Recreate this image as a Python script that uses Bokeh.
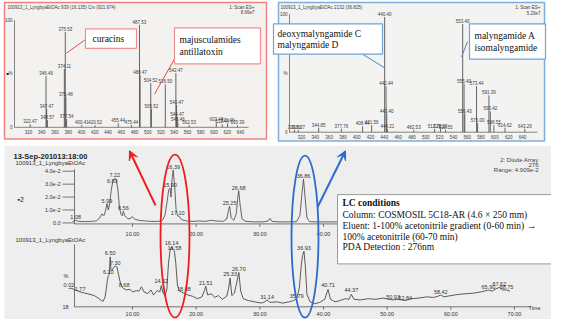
from bokeh.plotting import figure
from bokeh.models import Range1d, Arrow, VeeHead
from bokeh.core.properties import value
from bokeh.embed import file_html
from bokeh.resources import INLINE

# ---------------- data ----------------
# left mass spectrum (scan 939, 16.135 min)
mz_left = [322.47, 346.46, 347.47, 348.57, 374.11, 375.53, 376.48, 377.54, 400.41, 420.52,
           455.44, 475.44, 487.53, 488.47, 504.52, 505.52, 526.50, 542.47, 543.47, 544.47,
           545.46, 562.53, 603.44, 612.44, 620.46, 635.39]
int_left = [3, 50, 18, 7, 57, 93, 30, 8, 2, 2,
            4, 2, 100, 51, 43, 18, 42, 53, 22, 10,
            5, 2, 5, 3, 4, 2]
# right mass spectrum (scan 2132, 36.825 min)
mz_right = [309.80, 315.27, 344.85, 377.76, 408.44, 421.56, 440.40, 442.44, 443.40, 444.21,
            482.53, 512.72, 521.23, 528.55, 553.40, 555.40, 556.43, 573.44, 575.00, 591.39,
            593.42, 598.55, 614.62, 643.29]
int_right = [2, 2, 4, 3, 5, 6, 100, 40, 16, 3,
             2, 3, 3, 2, 94, 42, 16, 40, 8, 32,
             18, 6, 4, 3]
ms_ticks = [320, 340, 360, 380, 400, 420, 440, 460, 480, 500, 520, 540, 560, 580, 600, 620, 640]

# chromatogram 1 : diode array 276 nm (absorbance, x1e-2)
t_uv = [0.6, 1.08, 1.5, 2.5, 3.5, 4.3, 4.8, 5.2, 5.5, 5.8, 5.99, 6.2, 6.45, 6.65, 6.83, 7.0, 7.22,
        7.45, 7.7, 7.95, 8.2, 8.4, 8.56, 8.8, 9.2, 9.6, 9.95, 10.3, 11.0, 12.0, 13.0, 14.0, 14.7,
        15.1, 15.45, 15.7, 15.9, 16.05, 16.2, 16.39, 16.6, 16.85, 17.10, 17.35, 17.7, 18.5, 19.5,
        20.5, 21.5, 22.3, 23.2, 24.2, 24.8, 25.05, 25.25, 25.5, 25.9, 26.3, 26.5, 26.68, 26.9,
        27.2, 27.8, 29.0, 30.5, 31.3, 31.6, 31.9, 33.0, 34.5, 35.8, 36.3, 36.6, 36.86, 37.1,
        37.4, 37.8, 39.0, 41.0, 44.0]
a_uv = [0.12, 0.2, 0.12, 0.1, 0.12, 0.15, 0.35, 0.7, 0.55, 1.0, 1.5, 1.0, 1.6, 2.5, 3.0, 3.3, 3.45,
        3.35, 2.6, 1.2, 0.65, 0.55, 0.9, 0.55, 0.35, 0.3, 0.5, 0.3, 0.2, 0.15, 0.12, 0.12, 0.2,
        0.6, 1.7, 2.6, 2.7, 2.0, 3.3, 4.1, 3.0, 1.0, 0.55, 0.5, 0.25, 0.15, 0.12,
        0.15, 0.12, 0.2, 0.15, 0.12, 0.3, 0.9, 1.3, 0.4, 0.2, 0.7, 1.8, 2.5, 1.4,
        0.3, 0.12, 0.08, 0.08, 0.15, 0.35, 0.12, 0.08, 0.08, 0.1, 0.6, 2.2, 3.4, 2.0,
        0.4, 0.1, 0.08, 0.08, 0.08]
uv_peak_t = [1.08, 5.99, 6.83, 7.22, 8.56, 15.90, 16.39, 17.10, 25.25, 26.68, 36.86]
uv_peak_a = [0.2, 1.5, 3.0, 3.45, 0.9, 2.7, 4.1, 0.55, 1.3, 2.5, 3.4]
uv_yticks = [0, 1, 2, 3, 4]
uv_ylabels = ["0.0", "1.0e-2", "2.0e-2", "3.0e-2", "4.0e-2"]
uv_xticks = [10, 20, 30, 40]

# chromatogram 2 : MS TIC (%)
t_ms = [0.0, 0.3, 1.0, 1.77, 2.5, 3.3, 4.0, 4.6, 5.1, 5.4, 5.7, 5.9, 6.05, 6.20, 6.35, 6.45, 6.5,
        6.6, 6.8, 7.0, 7.30, 7.55, 7.8, 8.1, 8.4, 8.68, 9.1, 9.6, 10.0, 10.6, 11.0, 11.4, 11.8,
        12.4, 12.9, 13.3, 13.9, 14.3, 14.52, 14.8, 15.1, 15.4, 15.65, 15.9, 16.14, 16.35, 16.58,
        16.8, 17.05, 17.4, 18.08, 18.7, 19.4, 20.2, 20.9, 21.3, 21.51, 21.8, 22.4, 22.9, 23.5,
        24.1, 24.8, 25.1, 25.33, 25.6, 26.0, 26.4, 26.70, 27.0, 27.4, 28.2, 29.2, 30.2, 30.8,
        31.14, 31.6, 32.6, 33.6, 34.6, 35.3, 35.79, 36.2, 36.5, 36.7, 36.93, 37.15, 37.4, 37.9,
        38.6, 39.4, 40.2, 40.71, 41.1, 41.8, 42.6, 43.4, 44.0, 44.37, 44.8, 45.8, 47.0, 48.2,
        49.4, 50.3, 50.93, 51.6, 52.3, 52.84, 53.8, 55.0, 56.2, 57.3, 58.0, 58.42, 58.9, 60.0,
        61.3, 62.5, 63.6, 64.8, 65.90, 66.5, 67.1, 67.62, 68.1, 68.75, 69.3]
i_ms = [29, 30, 27, 24, 22, 20, 18, 14, 10, 9, 16, 30, 42, 50, 52, 70, 80,
        60, 58, 63, 65, 64, 52, 38, 31, 29, 27, 28, 24, 26, 25, 32, 24,
        21, 27, 19, 26, 24, 34, 22, 18, 28, 70, 90, 96, 92, 89,
        70, 35, 25, 22, 19, 17, 13, 16, 26, 33, 19, 21, 15, 18,
        12, 17, 30, 46, 18, 22, 40, 55, 25, 13, 10, 8, 6, 8,
        11, 7, 8, 6, 8, 10, 13, 30, 65, 82, 89, 65, 20, 8,
        5, 7, 12, 28, 12, 8, 10, 13, 12, 20, 12, 11, 13, 12,
        14, 12, 11, 12, 11, 10, 13, 14, 16, 15, 17, 19, 16, 18,
        20, 21, 22, 24, 27, 25, 29, 31, 27, 27, 25]
ms_peak_t = [0.02, 1.77, 6.20, 6.50, 7.30, 8.68, 14.52, 16.14, 16.58, 18.08, 21.51, 25.33,
             26.70, 31.14, 35.79, 36.93, 40.71, 44.37, 50.93, 52.84, 58.42, 65.90, 67.62, 68.75]
ms_peak_i = [30, 24, 51, 81, 66, 30, 36, 97, 89, 23, 34, 47,
             56, 11, 13, 89, 30, 22, 11, 10, 19, 27, 31, 27]
tic_xticks = [10, 20, 30, 40, 50, 60, 70]

# ---------------- figure ----------------
W, H = 551, 319
p = figure(width=W, height=H, output_backend="svg", toolbar_location=None,
           x_range=Range1d(8, 559), y_range=Range1d(335, 8), min_border=0)
p.axis.visible = False
p.grid.visible = False
p.outline_line_color = None
p.background_fill_color = "white"


def cal(v0, p0, v1, p1, lo, hi):
    k = (v1 - v0) / (p1 - p0)
    return Range1d(v0 + (lo - p0) * k, v0 + (hi - p0) * k)


p.extra_x_ranges = {
    "mzL": cal(320, 36, 640, 248, 8, 559),
    "mzR": cal(320, 309, 640, 530, 8, 559),
    "t": cal(10, 140, 70, 522, 8, 559),
}
p.extra_y_ranges = {
    "pL": cal(0, 138, 100, 33, 335, 8),
    "pR": cal(0, 143, 100, 25, 335, 8),
    "aT": cal(0, 236, 4, 183, 335, 8),
    "pB": cal(0, 322, 100, 258, 335, 8),
}

SANS = value("Liberation Sans")
SERIF = value("Liberation Serif")
INK = "#3c3c3c"

# ---------- panel backgrounds ----------
p.quad(left=12, right=567, top=157, bottom=340, fill_color="#eeeeee", line_color=None)
p.quad(left=12, right=274, top=10, bottom=150, fill_color="#f3f2f0", line_color="#ef8080", line_width=1.5)
p.quad(left=286, right=552, top=10, bottom=152, fill_color="#f3f3f2", line_color="#7eaedb", line_width=1.5)


def spectrum(mz, inten, xr, yr, x_axis0, x_axis1, y_top, base, ylab_x):
    p.segment(x0=mz, y0=[0] * len(mz), x1=mz, y1=inten, x_range_name=xr, y_range_name=yr,
              line_color="#555555", line_width=0.9)
    p.text(x=mz, y=inten, text=["%.2f" % m for m in mz], x_range_name=xr, y_range_name=yr,
           text_align="center", text_baseline="bottom", y_offset=-1,
           text_font=SANS, text_font_size="4.5px", text_color=INK)
    p.segment(x0=[x_axis0], y0=[base], x1=[x_axis1], y1=[base], line_color="#666666", line_width=0.8)
    p.segment(x0=[x_axis0], y0=[base], x1=[x_axis0], y1=[y_top], line_color="#666666", line_width=0.8)
    p.text(x=ms_ticks, y=[base + 5] * len(ms_ticks), text=[str(t) for t in ms_ticks],
           x_range_name=xr, text_align="center", text_baseline="middle",
           text_font=SANS, text_font_size="4.5px", text_color=INK)
    p.text(x=[ylab_x, ylab_x, ylab_x], y=[y_top, (y_top + base) / 2, base], text=["100", "%", "0"],
           text_align="right", text_baseline="middle", text_font=SANS, text_font_size="4.5px",
           text_color=INK)


spectrum(mz_left, int_left, "mzL", "pL", 22, 256, 28, 138, 20)
spectrum(mz_right, int_right, "mzR", "pR", 297, 545, 22, 143, 295)

p.text(x=[15], y=[15], text=["100913_1_LyngbyaEtOAc 939 (16.135) Cm (921:974)"], text_baseline="middle",
       text_font=SANS, text_font_size="4.5px", text_color=INK)
p.text(x=[262, 262], y=[15, 20], text=["1: Scan ES+", "8.66e7"], text_align="right",
       text_baseline="middle", text_font=SANS, text_font_size="4.5px", text_color=INK)
p.text(x=[14], y=[83], text=["\u25a0"], text_baseline="middle", text_font=SANS,
       text_font_size="4px", text_color="#111111")
p.text(x=[288], y=[15], text=["100913_1_LyngbyaEtOAc 2132 (36.825)"], text_baseline="middle",
       text_font=SANS, text_font_size="4.5px", text_color=INK)
p.text(x=[548, 548], y=[15, 21], text=["1: Scan ES+", "5.29e7"], text_align="right",
       text_baseline="middle", text_font=SANS, text_font_size="4.5px", text_color=INK)

# ---------- compound call-outs ----------
RED_BOX, RED_LINE = "#ef8f8f", "#e84a4a"
BLUE_BOX, BLUE_LINE = "#6fa3d6", "#4f86c2"
p.segment(x0=[93, 182], y0=[48, 68], x1=[74, 162], y1=[62, 104], line_color=RED_LINE, line_width=1)
p.quad(left=[93, 182], right=[144, 268], top=[37, 36], bottom=[57, 73], fill_color="white",
       line_color=RED_BOX, line_width=1.2)
p.segment(x0=[370, 475], y0=[63, 50], x1=[392, 469], y1=[77, 66], line_color=BLUE_LINE, line_width=1)
p.quad(left=[281, 477], right=[390, 553], top=[32, 32], bottom=[63, 68], fill_color="white",
       line_color=BLUE_BOX, line_width=1.2)
p.text(x=[100, 187, 187, 285, 285, 482, 482], y=[47, 49, 61, 42, 54, 44, 57],
       text=["curacins", "majusculamides", "antillatoxin", "deoxymalyngamide C", "malyngamide D",
             "malyngamide A", "isomalyngamide"],
       text_baseline="middle", text_font=SERIF, text_font_size="9.5px", text_color="#111111")

# ---------- chromatograms ----------
p.text(x=[21], y=[168], text=["13-Sep-201013:18:00"], text_baseline="middle", text_font=SANS,
       text_font_size="7.5px", text_font_style="bold", text_color="#222222")
p.text(x=[23, 23], y=[175, 254], text=["100913_1_LyngbyaEtOAc", "100913_1_LyngbyaEtOAc"],
       text_baseline="middle", text_font=SANS, text_font_size="6px", text_color="#333333")
p.text(x=[546, 546, 546], y=[172, 177, 182], text=["2: Diode Array", "276", "Range: 4.909e-2"],
       text_align="right", text_baseline="middle", text_font=SANS, text_font_size="6px",
       text_color="#444444")
p.text(x=[25], y=[212], text=["\u25aa2"], text_baseline="middle", text_font=SANS,
       text_font_size="7px", text_color="#222222")

# UV trace
p.line(x=t_uv, y=a_uv, x_range_name="t", y_range_name="aT", line_color="#555555", line_width=0.9)
p.segment(x0=[82], y0=[181], x1=[82], y1=[237], line_color="#555555", line_width=0.8)
p.segment(x0=[82], y0=[237], x1=[345], y1=[237], line_color="#555555", line_width=0.8)
p.segment(x0=[-1.0] * 5, y0=uv_yticks, x1=[0.9] * 5, y1=uv_yticks, x_range_name="t",
          y_range_name="aT", line_color="#555555", line_width=0.8)
p.text(x=[-1.3] * 5, y=uv_yticks, text=uv_ylabels, x_range_name="t", y_range_name="aT",
       text_align="right", text_baseline="middle", text_font=SANS, text_font_size="5.5px",
       text_color="#333333")
p.segment(x0=uv_xticks, y0=[237] * 4, x1=uv_xticks, y1=[240] * 4, x_range_name="t",
          line_color="#555555", line_width=0.8)
p.text(x=uv_xticks, y=[247] * 4, text=["%.2f" % t for t in uv_xticks], x_range_name="t",
       text_align="center", text_baseline="middle", text_font=SANS, text_font_size="5.5px",
       text_color="#333333")
p.text(x=uv_peak_t, y=uv_peak_a, text=["%.2f" % t for t in uv_peak_t], x_range_name="t",
       y_range_name="aT", text_align="center", text_baseline="bottom", y_offset=-1,
       text_font=SANS, text_font_size="5.5px", text_color="#333333")

# TIC trace
p.line(x=t_ms, y=i_ms, x_range_name="t", y_range_name="pB", line_color="#4a4a4a", line_width=0.9)
p.segment(x0=[82], y0=[258], x1=[82], y1=[322], line_color="#555555", line_width=0.8)
p.segment(x0=[82], y0=[322], x1=[538], y1=[322], line_color="#555555", line_width=0.8)
p.segment(x0=tic_xticks, y0=[322] * 7, x1=tic_xticks, y1=[325] * 7, x_range_name="t",
          line_color="#555555", line_width=0.8)
p.text(x=tic_xticks, y=[329] * 7, text=["%.2f" % t for t in tic_xticks], x_range_name="t",
       text_align="center", text_baseline="middle", text_font=SANS, text_font_size="5.5px",
       text_color="#333333")
p.text(x=[548, 76, 76], y=[323, 290, 322], text=["Time", "%", "18"], text_align="right",
       text_baseline="middle", text_font=SANS, text_font_size="5.5px", text_color="#333333")
p.text(x=ms_peak_t, y=ms_peak_i, text=["%.2f" % t for t in ms_peak_t], x_range_name="t",
       y_range_name="pB", text_align="center", text_baseline="bottom", y_offset=-1,
       text_font=SANS, text_font_size="5.5px", text_color="#333333")

# ---------- highlight ellipses & arrows ----------
p.ellipse(x=[182.5], y=[249.5], width=[29], height=[167], fill_color=None, line_color="#ee1c1c",
          line_width=1.8)
p.ellipse(x=[312.5], y=[250], width=[27], height=[166], fill_color=None, line_color="#2a6cc9",
          line_width=1.8)
p.add_layout(Arrow(end=VeeHead(size=9, fill_color="#ee1c1c", line_color="#ee1c1c"),
                   x_start=163, y_start=218, x_end=137, y_end=162, line_color="#ee1c1c", line_width=2))
p.add_layout(Arrow(end=VeeHead(size=9, fill_color="#2a6cc9", line_color="#2a6cc9"),
                   x_start=325, y_start=220, x_end=353, y_end=162, line_color="#2a6cc9", line_width=2))

# ---------- LC conditions box ----------
p.quad(left=[345], right=[570], top=[207], bottom=[278], fill_color="white", line_color="#9a9a9a",
       line_width=1)
p.text(x=[350], y=[216], text=["LC conditions"], text_baseline="middle", text_font=SERIF,
       text_font_size="9.5px", text_font_style="bold", text_color="#111111")
p.text(x=[350] * 4, y=[228, 239, 250, 261],
       text=["Column:  COSMOSIL 5C18-AR (4.6 \u00d7 250 mm)",
             "Eluent:  1-100% acetonitrile gradient (0-60 min) \u2192",
             "100% acetonitrile (60-70 min)",
             "PDA Detection : 276nm"],
       text_baseline="middle", text_font=SERIF, text_font_size="9.5px", text_color="#111111")

open("out.html", "w").write(file_html(p, INLINE))
